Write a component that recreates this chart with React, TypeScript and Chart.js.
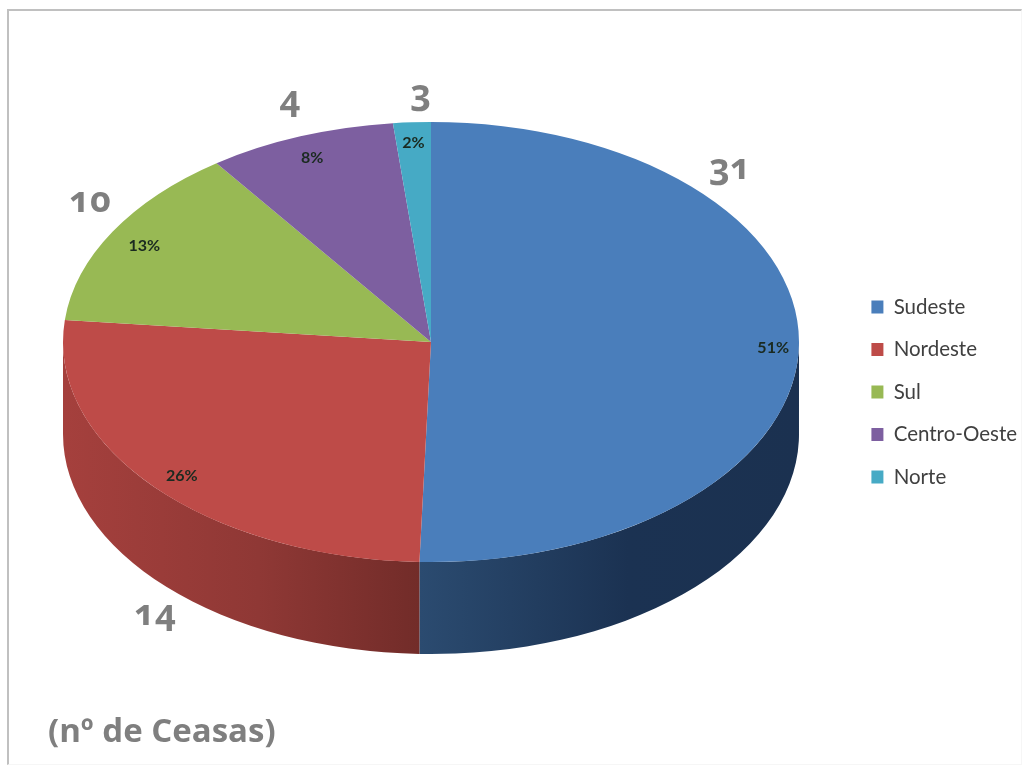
import React, { useEffect, useRef } from "react";
import { Chart, registerables } from "chart.js";

Chart.register(...registerables);

const regions = ["Sudeste", "Nordeste", "Sul", "Centro-Oeste", "Norte"];
const sliceShares = [50.5, 26.1, 13.5, 8.25, 1.65];
const percentLabels = ["51%", "26%", "13%", "8%", "2%"];
const labelReach = [0.93, 0.9, 0.9, 0.91, 0.92];
const sliceColors = ["#4a7ebb", "#be4b48", "#98b954", "#7d5fa0", "#46aac5"];
const sideGradients = [
  ["#2b4b70", "#1b3252", "#1b3150"],
  ["#a5403d", "#8f3835", "#722c29"],
  ["#7a9443", "#7a9443", "#7a9443"],
  ["#644c80", "#644c80", "#644c80"],
  ["#38889e", "#38889e", "#38889e"],
];
const countLabels = [
  { text: "31", x: 730, y: 166 },
  { text: "14", x: 155, y: 612 },
  { text: "10", x: 90, y: 199 },
  { text: "4", x: 290, y: 98 },
  { text: "3", x: 421, y: 92 },
];
const unitLabel = "(nº de Ceasas)";

const CENTER_X = 431;
const CENTER_Y = 342;
const RADIUS_X = 368;
const TILT = 220 / 368;
const DEPTH = 92;

const pie3d = {
  id: "pie3d",
  beforeDatasetsDraw(chart: any) {
    const { ctx } = chart;
    const arcs = chart.getDatasetMeta(0).data;
    const cy0 = arcs[0].y;
    const cx0 = arcs[0].x;
    ctx.save();
    ctx.translate(CENTER_X, CENTER_Y);
    ctx.scale(1, TILT);
    ctx.translate(-cx0, -cy0);
    const depth = DEPTH / TILT;
    arcs.forEach((arc: any, i: number) => {
      const a = Math.max(arc.startAngle, 0);
      const b = Math.min(arc.endAngle, Math.PI);
      if (b <= a) return;
      const xa = arc.x + Math.cos(a) * arc.outerRadius;
      const xb = arc.x + Math.cos(b) * arc.outerRadius;
      const g = ctx.createLinearGradient(Math.min(xa, xb), 0, Math.max(xa, xb), 0);
      const stops = sideGradients[i];
      g.addColorStop(0, stops[0]);
      g.addColorStop(0.55, stops[1]);
      g.addColorStop(1, stops[2]);
      ctx.fillStyle = g;
      ctx.beginPath();
      ctx.arc(arc.x, arc.y, arc.outerRadius, a, b);
      ctx.arc(arc.x, arc.y + depth, arc.outerRadius, b, a, true);
      ctx.closePath();
      ctx.fill();
    });
  },
  afterDatasetsDraw(chart: any) {
    const { ctx } = chart;
    ctx.restore();
    const arcs = chart.getDatasetMeta(0).data;
    ctx.save();
    ctx.font = "bold 16px Lato, 'Liberation Sans'";
    ctx.fillStyle = "#1a2a20";
    ctx.textAlign = "center";
    ctx.textBaseline = "middle";
    arcs.forEach((arc: any, i: number) => {
      const mid = (arc.startAngle + arc.endAngle) / 2;
      const r = arc.outerRadius * labelReach[i];
      ctx.fillText(
        percentLabels[i],
        CENTER_X + Math.cos(mid) * r,
        CENTER_Y + 3 + Math.sin(mid) * r * TILT
      );
    });
    ctx.restore();
  },
};

export default function App() {
  const ref = useRef<HTMLCanvasElement>(null);
  useEffect(() => {
    document.body.style.margin = "0";
    document.body.style.background = "#fff";
    const chart = new Chart(ref.current!, {
      type: "pie",
      data: {
        labels: regions,
        datasets: [
          { data: sliceShares, backgroundColor: sliceColors, borderWidth: 0, radius: RADIUS_X } as any,
        ],
      },
      options: {
        responsive: false,
        animation: false,
        layout: { padding: { left: 0, right: -2, top: 14, bottom: 0 } },
        plugins: {
          tooltip: { enabled: false },
          legend: {
            position: "right",
            labels: {
              boxWidth: 12,
              boxHeight: 13,
              padding: 22,
              color: "#404040",
              font: { family: "Lato, 'Liberation Sans'", size: 20.5 },
              usePointStyle: false,
            },
          },
        },
      },
      plugins: [pie3d],
    } as any);
    return () => chart.destroy();
  }, []);
  const countStyle: React.CSSProperties = {
    position: "absolute",
    transform: "translate(-50%, -50%)",
    fontFamily: "'Open Sans', sans-serif",
    fontWeight: 700,
    fontSize: 36,
    lineHeight: 1,
    color: "#7f7f7f",
    fontVariantNumeric: "oldstyle-nums",
    fontFeatureSettings: '"onum" 1',
  };
  return (
    <div style={{ position: "relative", width: 1025, height: 770, overflow: "hidden", background: "#fff" }}>
      <canvas ref={ref} width={1025} height={770} style={{ position: "absolute", left: 0, top: 0 }} />
      <div
        style={{
          position: "absolute",
          left: 7,
          top: 9,
          width: 1012,
          height: 753,
          borderLeft: "2px solid #c0c0c0",
          borderTop: "2px solid #c0c0c0",
          borderRight: "1px solid #f6f6f6",
          borderBottom: "1px solid #f6f6f6",
          pointerEvents: "none",
        }}
      />
      {countLabels.map((c) => (
        <div key={c.text} style={{ ...countStyle, left: c.x, top: c.y }}>
          {c.text}
        </div>
      ))}
      <div
        style={{
          position: "absolute",
          left: 48,
          top: 709,
          fontFamily: "'Open Sans', sans-serif",
          fontWeight: 700,
          fontSize: 33,
          lineHeight: "42px",
          color: "#7f7f7f",
          whiteSpace: "nowrap",
        }}
      >
        {unitLabel}
      </div>
    </div>
  );
}
